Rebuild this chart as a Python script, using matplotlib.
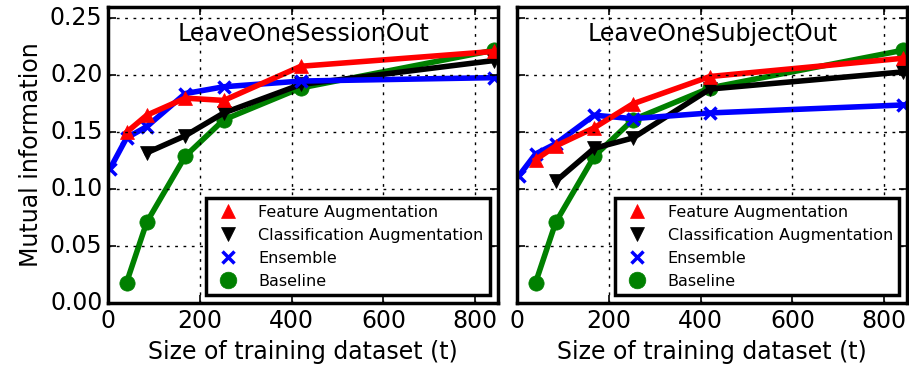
import matplotlib
matplotlib.use('Agg')
from matplotlib import pyplot as plt
from matplotlib.lines import Line2D

plt.style.use('classic')

# training set sizes
x_ens = [4, 40, 84, 168, 252, 420, 840]
x_feat = [40, 84, 168, 252, 420, 840]
x_clf = [84, 168, 252, 420, 840]
x_base = [40, 84, 168, 252, 420, 840]

# LeaveOneSessionOut
session_ens = [0.118, 0.145, 0.155, 0.184, 0.190, 0.195, 0.198]
session_feat = [0.150, 0.165, 0.180, 0.178, 0.208, 0.221]
session_clf = [0.132, 0.147, 0.167, 0.192, 0.213]
session_base = [0.018, 0.071, 0.129, 0.161, 0.189, 0.222]

# LeaveOneSubjectOut
subject_ens = [0.112, 0.131, 0.140, 0.165, 0.162, 0.167, 0.174]
subject_feat = [0.126, 0.138, 0.154, 0.175, 0.199, 0.215]
subject_clf = [0.107, 0.136, 0.145, 0.188, 0.203]
subject_base = [0.018, 0.071, 0.129, 0.161, 0.189, 0.222]

titles = ['LeaveOneSessionOut', 'LeaveOneSubjectOut']
panels = [
    (session_feat, session_clf, session_ens, session_base),
    (subject_feat, subject_clf, subject_ens, subject_base),
]

fig, axes = plt.subplots(1, 2, figsize=(9.09, 3.71), dpi=100, sharey=True)
fig.patch.set_facecolor('white')
fig.subplots_adjust(left=0.119, right=0.998, bottom=0.183, top=0.981, wspace=0.049)

lw = 4
for ax, title, (feat, clf, ens, base) in zip(axes, titles, panels):
    ax.plot(x_base, base, '-o', color='g', lw=lw, ms=11, mec='g')
    ax.plot(x_clf, clf, '-v', color='k', lw=lw, ms=10, mec='k')
    ax.plot(x_ens, ens, '-x', color='b', lw=lw, ms=9, mew=2.5, mec='b')
    ax.plot(x_feat, feat, '-^', color='r', lw=lw, ms=10, mec='r')

    ax.set_xlim(0, 850)
    ax.set_ylim(0, 0.26)
    ax.set_xticks([0, 200, 400, 600, 800])
    ax.set_yticks([0.0, 0.05, 0.10, 0.15, 0.20, 0.25])
    ax.grid(True, color='k', linestyle=(0, (2, 4)), linewidth=1)
    ax.tick_params(labelsize=17, length=6, width=1.2)
    for sp in ax.spines.values():
        sp.set_linewidth(2.5)
    ax.set_xlabel('Size of training dataset (t)', fontsize=17)
    ax.text(0.5, 0.91, title, transform=ax.transAxes, ha='center', va='center',
            fontsize=17)

    handles = [
        Line2D([], [], ls='none', marker='^', color='r', mec='r', ms=10),
        Line2D([], [], ls='none', marker='v', color='k', mec='k', ms=10),
        Line2D([], [], ls='none', marker='x', color='b', mec='b', ms=8, mew=2.5),
        Line2D([], [], ls='none', marker='o', color='g', mec='g', ms=12),
    ]
    labels = ['Feature Augmentation', 'Classification Augmentation',
              'Ensemble', 'Baseline']
    leg = ax.legend(handles, labels, loc='lower right', numpoints=1,
                    fontsize=11.5, frameon=True, borderaxespad=0.5,
                    labelspacing=0.5, handletextpad=0.9)
    leg.get_frame().set_linewidth(2.5)
    leg.get_frame().set_edgecolor('k')

axes[0].yaxis.set_major_formatter(matplotlib.ticker.FormatStrFormatter('%.2f'))
axes[0].set_ylabel('Mutual information', fontsize=17)

fig.savefig('out.png', dpi=100, facecolor='white')
